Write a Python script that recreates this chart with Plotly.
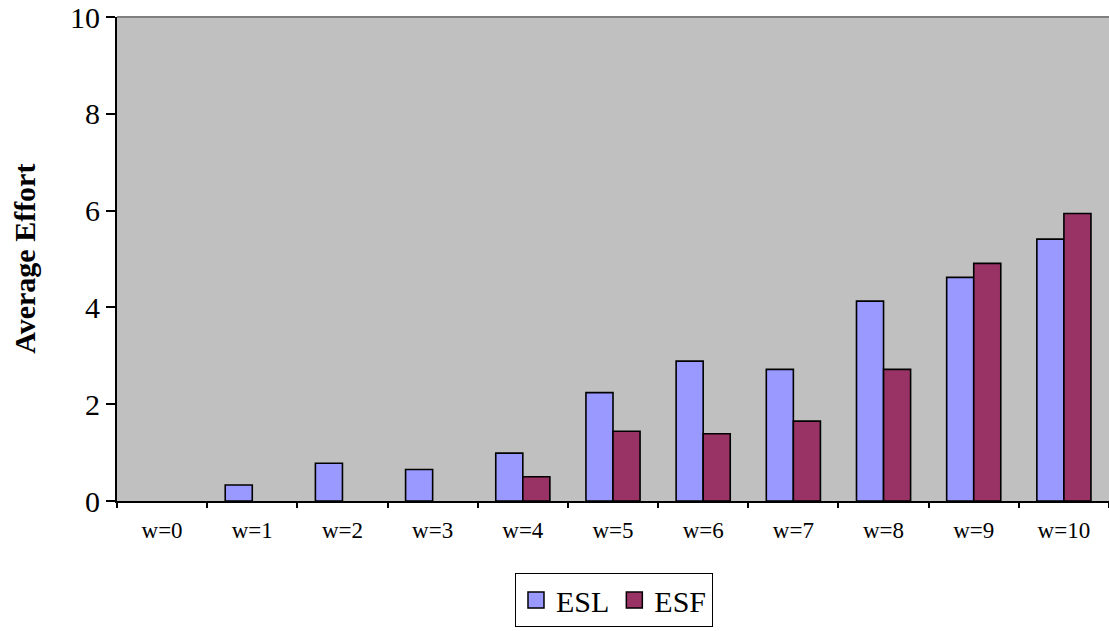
import plotly.graph_objects as go

categories = ["w=0", "w=1", "w=2", "w=3", "w=4", "w=5", "w=6", "w=7", "w=8", "w=9", "w=10"]
# None marks a category with no bar drawn
esl_values = [None, 0.33, 0.78, 0.65, 0.99, 2.24, 2.89, 2.72, 4.13, 4.62, 5.41]
esf_values = [None, None, None, None, 0.50, 1.44, 1.39, 1.65, 2.72, 4.91, 5.94]
y_ticks = [0, 2, 4, 6, 8, 10]

FONT = "Liberation Serif, Times New Roman, serif"
ESL_COLOR = "#9999FF"
ESF_COLOR = "#993366"

fig = go.Figure()
for name, vals, color in [("ESL", esl_values, ESL_COLOR), ("ESF", esf_values, ESF_COLOR)]:
    fig.add_trace(go.Bar(
        name=name, x=categories, y=vals, showlegend=False,
        marker=dict(color=color, line=dict(color="black", width=1.6)),
    ))
    # legend entry with a larger square swatch
    fig.add_trace(go.Scatter(
        name=name, x=[None], y=[None], mode="markers",
        marker=dict(symbol="square", size=17, color=color,
                    line=dict(color="black", width=1.5)),
    ))

fig.update_layout(
    width=1109, height=631,
    margin=dict(l=117, r=0, t=17, b=130),
    paper_bgcolor="white",
    plot_bgcolor="#C0C0C0",
    barmode="group",
    bargap=0.40,
    bargroupgap=0,
    font=dict(family=FONT, color="black"),
    showlegend=True,
    legend=dict(
        orientation="h",
        x=0.501, xanchor="center",
        y=-0.149, yanchor="top",
        bordercolor="black", borderwidth=1,
        bgcolor="white",
        font=dict(family=FONT, size=30, color="black"),
        itemwidth=30,
        tracegroupgap=0,
    ),
    xaxis=dict(
        type="category",
        range=[-0.5, 10.5],
        showgrid=False,
        showline=True, linecolor="black", linewidth=2,
        ticks="outside", tickson="boundaries", ticklen=5, tickwidth=1.5, tickcolor="black",
        tickfont=dict(family=FONT, size=23, color="black"),
        ticklabelstandoff=7,
    ),
    yaxis=dict(
        range=[0, 10],
        tickvals=y_ticks,
        showgrid=False, zeroline=False,
        showline=True, linecolor="black", linewidth=2,
        ticks="outside", ticklen=9, tickwidth=1.5, tickcolor="black",
        tickfont=dict(family=FONT, size=30, color="black"),
    ),
    annotations=[dict(
        text="<b>Average Effort</b>",
        xref="paper", yref="paper",
        x=-0.094, y=0.5, xanchor="center", yanchor="middle",
        textangle=-90, showarrow=False,
        font=dict(family=FONT, size=30, color="black"),
    )],
    shapes=[dict(
        type="line", xref="paper", yref="paper",
        x0=0, x1=1, y0=1, y1=1,
        line=dict(color="#808080", width=2),
    )],
)

fig.write_html("out.html")
